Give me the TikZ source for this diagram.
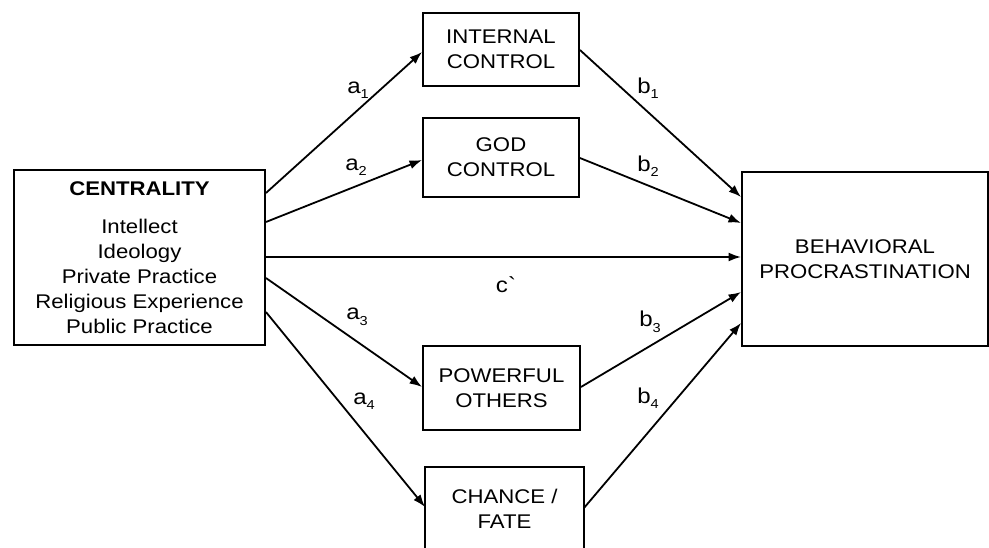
\documentclass[tikz,border=0pt]{standalone}
\usepackage{fontspec}
\setmainfont{Liberation Sans}[FakeStretch=1.12]
\newfontfamily\rawfont{Liberation Sans}[FakeStretch=1.12,Ligatures=ResetAll]
\usetikzlibrary{arrows.meta}
\tikzset{
  box/.style={draw, line width=1.9pt, inner sep=0pt, align=center,
    font=\fontsize{19.8}{25}\selectfont},
  link/.style={line width=1.8pt, -{Latex[length=12.5pt,width=9pt]}},
  lab/.style={font=\fontsize{21.5}{24}\selectfont, inner sep=0pt}
}
\newcommand{\sbs}[1]{\raisebox{-5.5pt}{\fontsize{13}{13}\selectfont #1}}
\begin{document}
\begin{tikzpicture}[x=1pt,y=-1pt]
\useasboundingbox (0,0) rectangle (989,548);
\clip (0,0) rectangle (989,548);
\fill[white] (0,0) rectangle (989,548);

\node[box, minimum width=251pt, minimum height=175pt] (cen) at (139.5,257.5)
  {\textbf{CENTRALITY}\\[13pt] Intellect\\ Ideology\\ Private Practice\\ Religious Experience\\ Public Practice};
\node[box, minimum width=156pt, minimum height=73pt] (ic) at (501,49.5) {INTERNAL\\ CONTROL};
\node[box, minimum width=156pt, minimum height=79pt] (gc) at (501,157.5) {GOD\\ CONTROL};
\node[box, minimum width=157pt, minimum height=84pt] (po) at (501.5,388) {POWERFUL\\ OTHERS};
\node[box, draw=none, minimum width=157pt, minimum height=82pt] (ch) at (504.5,509) {CHANCE /\\ FATE};
\draw[line width=1.9pt] ([yshift=-20pt]ch.south west) -- (ch.north west) -- (ch.north east) -- ([yshift=-20pt]ch.south east);
\node[box, minimum width=246pt, minimum height=174pt] (bp) at (865,259) {BEHAVIORAL\\ PROCRASTINATION};

\draw[link] (cen.east |- 0,193) -- (ic.west |- 0,52);
\draw[link] (cen.east |- 0,222) -- (gc.west |- 0,160);
\draw[link] (cen.east |- 0,257) -- (bp.west |- 0,257);
\draw[link] (cen.east |- 0,278) -- (po.west |- 0,387);
\draw[link] (cen.east |- 0,312) -- (ch.west |- 0,507);
\draw[link] (ic.east |- 0,50) -- (bp.west |- 0,197);
\draw[link] (gc.east |- 0,158) -- (bp.west |- 0,223);
\draw[link] (po.east |- 0,387) -- (bp.west |- 0,292);
\draw[link] (ch.east |- 0,508) -- (bp.west |- 0,323);

\node[lab] (la1) at (358,90) {a\sbs{1}};
\node[lab] (la2) at (356,167) {a\sbs{2}};
\node[lab] (la3) at (357,317) {a\sbs{3}};
\node[lab] (la4) at (364,401) {a\sbs{4}};
\node[lab] (lb1) at (648,88) {b\sbs{1}};
\node[lab] (lb2) at (648,166) {b\sbs{2}};
\node[lab] (lb3) at (650,322) {b\sbs{3}};
\node[lab] (lb4) at (648,398) {b\sbs{4}};
\node[lab] (lc) at (506,285) {c{\rawfont\symbol{96}}};
\end{tikzpicture}
\end{document}
